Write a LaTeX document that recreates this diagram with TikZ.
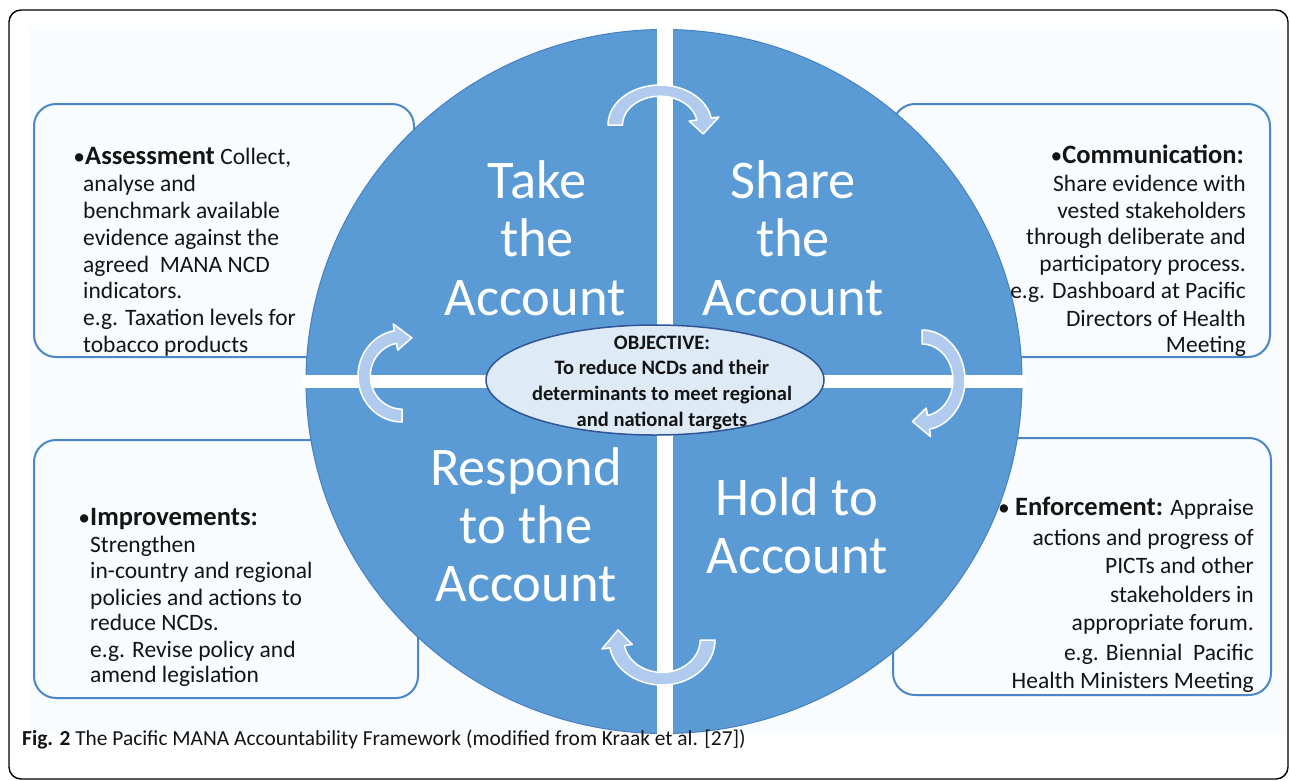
\documentclass[tikz,border=0pt]{standalone}
\usepackage{fontspec}
\usetikzlibrary{shapes.geometric}
\setmainfont{Carlito}
\definecolor{bg}{RGB}{248,252,254}
\definecolor{quad}{RGB}{91,155,213}
\definecolor{quadedge}{RGB}{70,128,192}
\definecolor{boxedge}{RGB}{74,134,200}
\definecolor{arrowfill}{RGB}{176,203,238}
\definecolor{objfill}{RGB}{222,235,247}
\definecolor{objedge}{RGB}{47,85,151}
\definecolor{txt}{RGB}{20,20,20}
\newcommand\hd[1]{{\fontsize{26.5}{30}\selectfont\bfseries #1}}
\tikzset{
 infobox/.style={draw=boxedge, line width=2pt, fill=bg, rounded corners=22pt},
 quadtext/.style={text=white, font=\fontsize{54.5}{58}\selectfont, inner sep=0, anchor=base},
 boxtextL/.style={text=txt, font=\fontsize{23.5}{27}\selectfont, inner sep=0, anchor=base west},
 boxtextR/.style={text=txt, font=\fontsize{23.5}{27}\selectfont, inner sep=0, anchor=base east},
 objtext/.style={text=txt, font=\bfseries\fontsize{20.5}{25}\selectfont, inner sep=0, anchor=base},
 cycarrow/.style={fill=arrowfill, draw=white, line width=1.5pt, line join=round},
}
\newcommand\cycarrowpath{(180:1) -- plot[domain=180:350, samples=40] ({cos(\x)},{sin(\x)}) -- (350:1.15) -- (15:0.86) -- (350:0.57) -- (350:0.72) -- plot[domain=350:180, samples=40] ({0.72*cos(\x)},{0.72*sin(\x)}) -- cycle}
\begin{document}
\begin{tikzpicture}[x=1pt,y=-1pt]
\useasboundingbox (0,0) rectangle (1290,780);
% frame and background
\fill[white] (0,0) rectangle (1290,780);
\fill[bg] (30,28) rectangle (1286,735);
\draw[black, line width=1.4pt, rounded corners=12pt] (9,10) rectangle (1288,779);
% info boxes
\draw[infobox] (34,104) rectangle (414,357);
\draw[infobox] (34,440) rectangle (418,698);
\draw[infobox] (893,104) rectangle (1270,357);
\draw[infobox] (893,438) rectangle (1271,695);
% main circle
\fill[quad, draw=quadedge, line width=1pt] (664,381.5) ellipse [x radius=358, y radius=352];
\begin{scope}
\clip (664,381.5) ellipse [x radius=361, y radius=355];
\fill[white] (657,0) rectangle (673,780);
\fill[white] (0,374.5) rectangle (1290,388);
\end{scope}
% quadrant texts
\node[quadtext] (take1) at (537,198) {Take};
\node[quadtext] (take2) at (537,256.5) {the};
\node[quadtext] (take3) at (535,315) {Account};
\node[quadtext] (share1) at (793,198) {Share};
\node[quadtext] (share2) at (793,256.5) {the};
\node[quadtext] (share3) at (793,315) {Account};
\node[quadtext] (resp1) at (526,485) {Respond};
\node[quadtext] (resp2) at (526,543) {to the};
\node[quadtext] (resp3) at (526,601) {Account};
\node[quadtext] (hold1) at (797,515) {Hold to};
\node[quadtext] (hold2) at (797,573) {Account};
% cycle arrows
\draw[cycarrow, shift={(660,125)}, xscale=52, yscale=40] \cycarrowpath;
\draw[cycarrow, shift={(922,380)}, rotate=-90, xscale=50, yscale=43] \cycarrowpath;
\draw[cycarrow, shift={(662,640)}, rotate=180, xscale=53, yscale=45] \cycarrowpath;
\draw[cycarrow, shift={(402,376)}, rotate=90, xscale=46, yscale=44] \cycarrowpath;
% objective
\node[draw=objedge, fill=objfill, line width=1.5pt, ellipse, minimum width=338pt, minimum height=110pt, inner sep=0] (obj) at (655,380) {};
\node[objtext] (obj1) at (662,349) {OBJECTIVE:};
\node[objtext] (obj2) at (662,374) {To reduce NCDs and their};
\node[objtext] (obj3) at (662,400.5) {determinants to meet regional};
\node[objtext] (obj4) at (662,426) {and national targets};
% top-left text
\node[boxtextL] (tl1) at (85,164) {\llap{•}\hd{Assessment} Collect,};
\node[boxtextL] (tl2) at (83,191) {analyse and};
\node[boxtextL] (tl3) at (83,218) {benchmark available};
\node[boxtextL] (tl4) at (83,245) {evidence against the};
\node[boxtextL] (tl5) at (83,272) {agreed\ \ MANA NCD};
\node[boxtextL] (tl6) at (83,298) {indicators.};
\node[boxtextL] (tl7) at (83,325.5) {e.g. Taxation levels for};
\node[boxtextL] (tl8) at (83,352) {tobacco products};
% top-right text
\node[boxtextR] (tr1) at (1244,163) {•\hd{Communication:}};
\node[boxtextR] (tr2) at (1246,191) {Share evidence with};
\node[boxtextR] (tr3) at (1246,218) {vested stakeholders};
\node[boxtextR] (tr4) at (1246,244.5) {through deliberate and};
\node[boxtextR] (tr5) at (1246,271) {participatory process.};
\node[boxtextR] (tr6) at (1246,298.5) {e.g. Dashboard at Pacific};
\node[boxtextR] (tr7) at (1246,326) {Directors of Health};
\node[boxtextR] (tr8) at (1246,352) {Meeting};
% bottom-left text
\node[boxtextL] (bl1) at (90,525) {\llap{•}\hd{Improvements:}};
\node[boxtextL] (bl2) at (90,552) {Strengthen};
\node[boxtextL] (bl3) at (90,578) {in-country and regional};
\node[boxtextL] (bl4) at (90,605) {policies and actions to};
\node[boxtextL] (bl5) at (90,630.5) {reduce NCDs.};
\node[boxtextL] (bl6) at (90,657) {e.g. Revise policy and};
\node[boxtextL] (bl7) at (90,682) {amend legislation};
% bottom-right text
\node[boxtextR] (br1) at (1254,515) {•\ \hd{Enforcement:} Appraise};
\node[boxtextR] (br2) at (1254,545) {actions and progress of};
\node[boxtextR] (br3) at (1254,573) {PICTs and other};
\node[boxtextR] (br4) at (1254,602) {stakeholders in};
\node[boxtextR] (br5) at (1254,630) {appropriate forum.};
\node[boxtextR] (br6) at (1254,660) {e.g. Biennial\ \ Pacific};
\node[boxtextR] (br7) at (1254,688) {Health Ministers Meeting};
% caption
\node[anchor=base west, inner sep=0, text=txt, font=\fontsize{21.4}{25}\selectfont] (cap) at (22,745) {\textbf{Fig. 2} The Pacific MANA Accountability Framework (modified from Kraak et al. [27])};
\end{tikzpicture}
\end{document}
